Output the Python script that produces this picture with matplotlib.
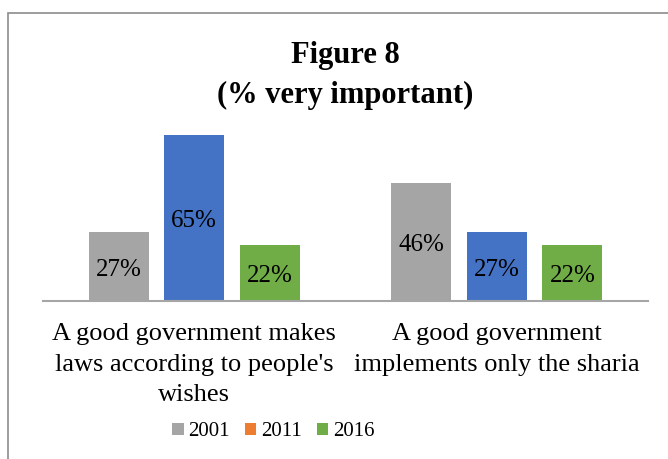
import matplotlib.pyplot as plt
import numpy as np
from matplotlib.patches import Patch, Rectangle

plt.rcParams['font.family'] = ['Liberation Serif', 'DejaVu Serif']

categories = ["A good government makes\nlaws according to people's\nwishes",
              "A good government\nimplements only the sharia"]
years = ["2001", "2011", "2016"]
values = {
    "2001": [27, 46],
    "2011": [65, 27],
    "2016": [22, 22],
}
bar_colors = ["#A5A5A5", "#4472C4", "#70AD47"]
legend_colors = ["#A5A5A5", "#ED7D31", "#70AD47"]

fig = plt.figure(figsize=(6.68, 4.59), dpi=100)
ax = fig.add_axes([0.0644, 0.3442, 0.9057, 0.3904])

# outer chart frame (right and bottom edges fall outside the image)
fig.patches.append(Rectangle((8 / 668, -0.1), 1.2, 1 - 13 / 459 + 0.1,
                             transform=fig.transFigure, fill=False,
                             edgecolor="#8C8C8C", linewidth=1.2))

x = np.arange(len(categories))
width = 0.1987
step = 0.25
for i, (year, color) in enumerate(zip(years, bar_colors)):
    pos = x + (i - 1) * step
    bars = ax.bar(pos, values[year], width, color=color)
    for b, v in zip(bars, values[year]):
        ax.text(b.get_x() + b.get_width() / 2, v / 2 - 1.2, f"{v}%",
                ha="center", va="center", fontsize=18, color="black")

ax.set_xlim(-0.5, 1.5)
ax.set_ylim(0, 70)
ax.set_yticks([])
ax.set_xticks(x)
ax.set_xticklabels(categories, fontsize=19, linespacing=1.5)
ax.tick_params(axis="x", length=0, pad=16)
for side in ["top", "right", "left"]:
    ax.spines[side].set_visible(False)
ax.spines["bottom"].set_color("#A6A6A6")
ax.spines["bottom"].set_linewidth(1.5)

fig.text(0.517, 1 - 55 / 459, "Figure 8", ha="center", va="center",
         fontsize=22, fontweight="bold")
fig.text(0.517, 1 - 95 / 459, "(% very important)", ha="center", va="center",
         fontsize=22, fontweight="bold")

handles = [Patch(facecolor=c, edgecolor="none") for c in legend_colors]
fig.legend(handles, years, loc="center", bbox_to_anchor=(0.409, 1 - 432 / 459),
           ncol=3, frameon=False, fontsize=15, handlelength=0.55,
           handleheight=0.55, handletextpad=0.2, columnspacing=0.75)

fig.savefig("out.png", dpi=100)
